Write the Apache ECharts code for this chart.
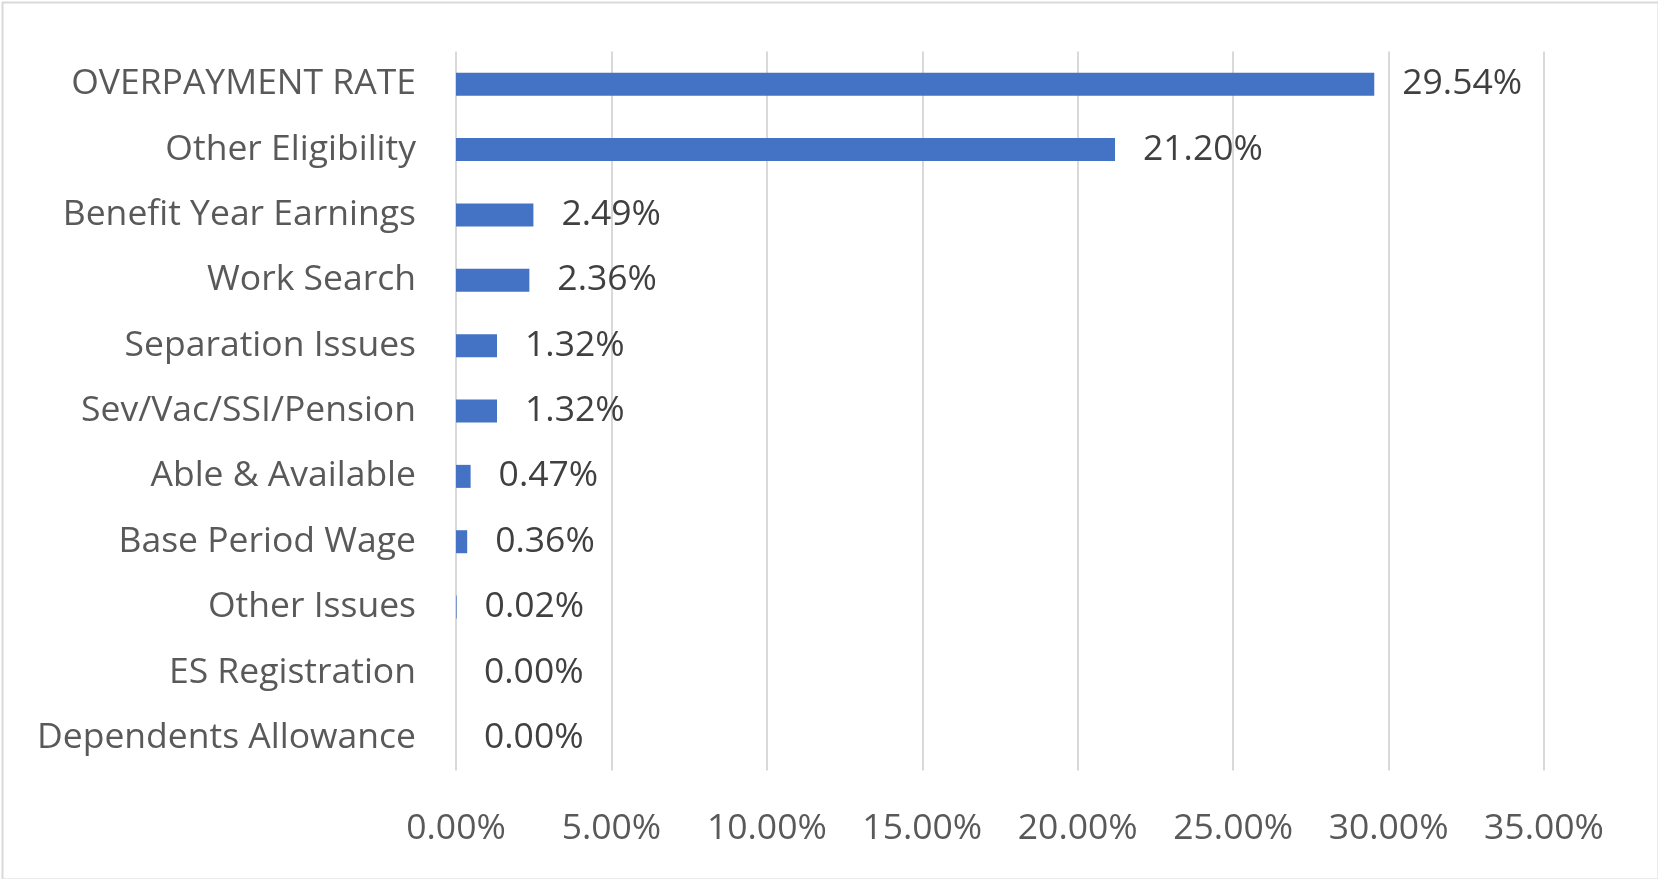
<!DOCTYPE html>
<html>
<head>
<meta charset="utf-8">
<script src="https://cdn.jsdelivr.net/npm/echarts@6/dist/echarts.min.js"></script>
<style>
html,body{margin:0;padding:0;background:#fff;}
#chart{width:1658px;height:879px;}
</style>
</head>
<body>
<div id="chart"></div>
<script>
const categories = [
  "OVERPAYMENT RATE",
  "Other Eligibility",
  "Benefit Year Earnings",
  "Work Search",
  "Separation Issues",
  "Sev/Vac/SSI/Pension",
  "Able & Available",
  "Base Period Wage",
  "Other Issues",
  "ES Registration",
  "Dependents Allowance"
];
const values = [29.54, 21.20, 2.49, 2.36, 1.32, 1.32, 0.47, 0.36, 0.02, 0.00, 0.00];
const axisMin = 0, axisMax = 35, axisStep = 5;

const FONT = "'Open Sans', sans-serif";
const FS = 35.5;
const chart = echarts.init(document.getElementById('chart'), null, {renderer: 'canvas'});
chart.setOption({
  animation: false,
  backgroundColor: '#ffffff',
  grid: {left: 456, right: 114, top: 51.5, bottom: 108.5, containLabel: false},
  graphic: [{
    type: 'rect', left: 0, top: 0, z: -10,
    shape: {x: 1, y: 1, width: 1656, height: 877},
    style: {fill: 'none', stroke: '#d9d9d9', lineWidth: 2}
  }],
  xAxis: {
    type: 'value', min: axisMin, max: axisMax, interval: axisStep,
    axisLine: {show: false}, axisTick: {show: false},
    splitLine: {show: true, lineStyle: {color: '#d9d9d9', width: 2}},
    axisLabel: {
      color: '#595959', fontFamily: FONT, fontSize: FS, margin: 40,
      formatter: v => v.toFixed(2) + '%'
    }
  },
  yAxis: {
    type: 'category', data: categories, inverse: true,
    axisLine: {show: false}, axisTick: {show: false},
    axisLabel: {color: '#595959', fontFamily: FONT, fontSize: FS, margin: 40}
  },
  series: [{
    type: 'bar', data: values, barWidth: 23,
    itemStyle: {color: '#4472C4'},
    label: {
      show: true, position: 'right', distance: 28,
      color: '#404040', fontFamily: FONT, fontSize: FS,
      formatter: p => p.value.toFixed(2) + '%'
    }
  }]
});
</script>
</body>
</html>
